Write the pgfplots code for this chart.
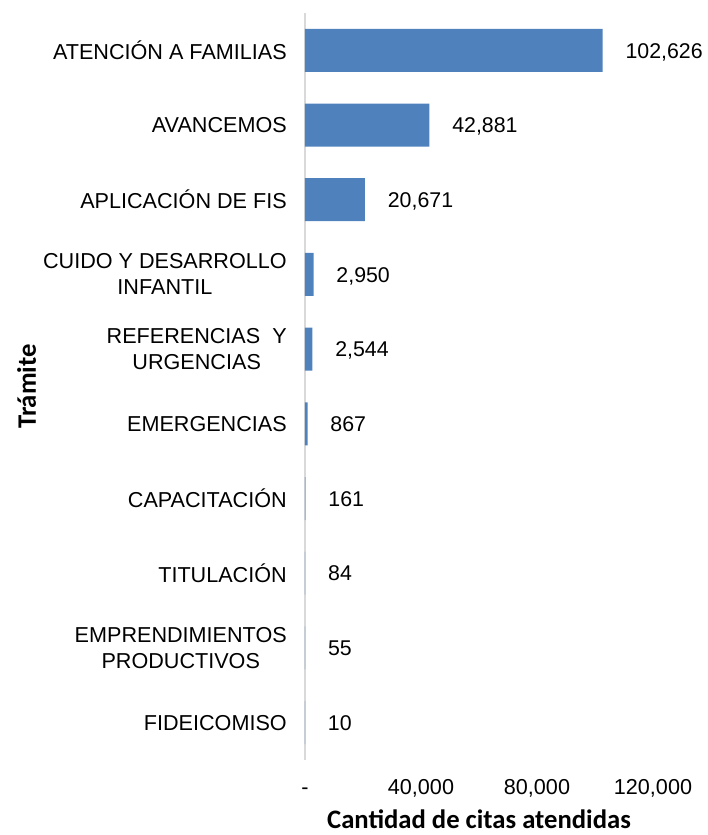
\documentclass[border=0pt]{standalone}
\usepackage{fontspec}
\setmainfont{Liberation Sans}
\newfontfamily\carlito{Carlito}
\usepackage{pgfplots}
\pgfplotsset{compat=1.18}
\definecolor{barblue}{HTML}{4F81BD}
\definecolor{axisgray}{HTML}{D9D9D9}

\begin{document}
\fontsize{16.2}{19.5}\selectfont
\begin{tikzpicture}
% frame of the whole picture: 707 x 835 px at 0.75pt/px
\useasboundingbox (-228.75pt,-56.25pt) rectangle (301.5pt,570pt);
\begin{axis}[
    at={(0,0)}, anchor=south west,
    scale only axis,
    width=261pt, height=560.25pt,
    xbar, bar width=32.25pt,
    xmin=0, xmax=120000,
    ymin=-0.5, ymax=9.5,
    axis y line*=left, axis x line*=bottom,
    x axis line style={draw=none},
    y axis line style={draw=axisgray, line width=1.2pt, -},
    major tick length=0pt,
    scaled x ticks=false,
    xtick={0,40000,80000,120000},
    xticklabels={{-},{40,000},{80,000},{120,000}},
    xticklabel style={inner sep=0pt, text height=11.5pt, text depth=0pt, yshift=-14pt},
    ytick={0,...,9},
    yticklabels={
        {FIDEICOMISO},
        {EMPRENDIMIENTOS\\PRODUCTIVOS},
        {TITULACIÓN},
        {CAPACITACIÓN},
        {EMERGENCIAS},
        {REFERENCIAS\ \ Y\\URGENCIAS},
        {CUIDO Y DESARROLLO\\INFANTIL},
        {APLICACIÓN DE FIS},
        {AVANCEMOS},
        {ATENCIÓN A FAMILIAS}},
    yticklabel style={align=center, inner sep=0pt, xshift=-13.5pt},
    xlabel={\carlito\bfseries\fontsize{20}{22}\selectfont Cantidad de citas atendidas},
    xlabel style={at={(axis description cs:0.5,0)}, anchor=north, inner sep=0pt, yshift=-37pt},
    ylabel={\carlito\bfseries\fontsize{20}{22}\selectfont Trámite},
    ylabel style={at={(axis description cs:-0.80,0.5)}, anchor=center, inner sep=0pt},
    point meta=explicit symbolic,
    nodes near coords={\pgfplotspointmeta},
    nodes near coords style={anchor=west, inner sep=0pt, xshift=17pt,
        text height=11.5pt, text depth=0pt, font=\fontsize{16}{19}\selectfont},
    clip=false,
]
\addplot[fill=barblue, draw=none] coordinates {
    (10,0) [10]
    (55,1) [55]
    (84,2) [84]
    (161,3) [161]
    (867,4) [867]
    (2544,5) [{2,544}]
    (2950,6) [{2,950}]
    (20671,7) [{20,671}]
    (42881,8) [{42,881}]
    (102626,9) [{102,626}]
};
\end{axis}
\end{tikzpicture}
\end{document}
